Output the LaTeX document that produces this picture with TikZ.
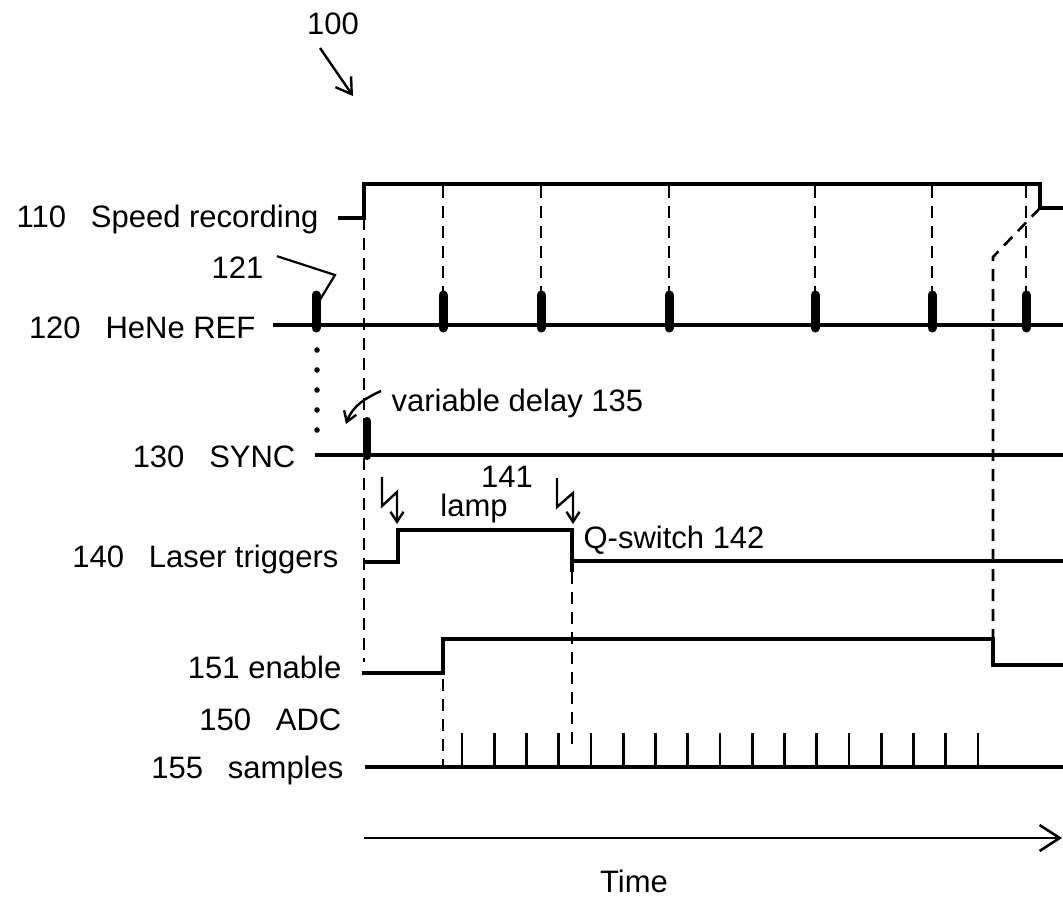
\documentclass[tikz,border=0pt]{standalone}
\usepackage{fontspec}
\setmainfont{Liberation Sans}
\usetikzlibrary{arrows.meta}
\tikzset{
  lbl/.style={font=\fontsize{31}{37}\selectfont,inner sep=0pt},
  guide/.style={line width=2.6pt,dash pattern=on 12pt off 8pt},
  pulse/.style={line width=9pt,line cap=round},
  bolt/.style={line width=2.4pt,-{Straight Barb[length=10pt,width=13pt]}}
}
\begin{document}
\begin{tikzpicture}[x=1pt,y=-1pt,line width=3.2pt,every node/.style={lbl}]
\useasboundingbox (0,0) rectangle (1063,903);

\node (100) [anchor=base] at (333,34) {100};
\draw [line width=2.4pt,-{Straight Barb[length=15pt,width=19pt]}] (320,48) -- (353,96);

\node (110) [anchor=base east] at (320,227) {110\hspace{0.8em}Speed recording};
\node (120) [anchor=base east] at (257,338) {120\hspace{0.8em}HeNe REF};
\node (121) [anchor=base east] at (265,278) {121};
\node (130) [anchor=base east] at (297,467) {130\hspace{0.8em}SYNC};
\node (135) [anchor=base west] at (390,411) {variable delay 135};
\node (140) [anchor=base east] at (340,567) {140\hspace{0.8em}Laser triggers};
\node (141) [anchor=base] at (507,487) {141};
\node (lamp) [anchor=base] at (474,516) {lamp};
\node (142) [anchor=base west] at (582,548) {Q-switch 142};
\node (151) [anchor=base east] at (343,678) {151 enable};
\node (150) [anchor=base east] at (343,730) {150\hspace{0.8em}ADC};
\node (155) [anchor=base east] at (345,778) {155\hspace{0.8em}samples};
\node (time) [anchor=base] at (634,892) {Time};

\draw (338,218) -- (364,218) -- (364,184) -- (1040,184) -- (1040,208) -- (1063,208);

\draw (273,325) -- (1063,325);
\foreach \x in {316,443,541,669,815,932,1026}
  \draw [pulse] (\x,295) -- (\x,328);
\draw [line width=2.2pt] (121.east) ++(12,-11) -- (335,275) -- (318,303);
\foreach \y in {350,370,...,430}
  \fill (317,\y) circle (2.8pt);

\draw (315,455) -- (1063,455);
\draw [pulse,line width=8pt] (367,421) -- (367,456);
\draw [line width=2.4pt,-{Straight Barb[length=10pt,width=13pt]}] (135.west) ++(-9,-12) .. controls (366,398) and (353,405) .. (346,424);

\draw (365,562) -- (398,562) -- (398,530) -- (572,530) -- (572,572);
\draw (572,561) -- (1063,561);
\draw [bolt] (382,477) -- (382,506) -- (397,492) -- (397,524);
\draw [bolt] (557,478) -- (557,507) -- (573,493) -- (573,524);

\draw (362,673) -- (443,673) -- (443,639) -- (993,639) -- (993,665) -- (1063,665);

\draw (365,767) -- (1063,767);
\foreach \i in {0,...,16}
  \draw [line width=2.8pt] ({462+32.25*\i},733) -- ++(0,34);

\draw [guide] (364,218) -- (364,662);
\foreach \x in {443,541,669,815,932,1026}
  \draw [guide] (\x,186) -- (\x,292);
\draw [guide] (1040,208) -- (993,257) -- (993,639);
\draw [guide] (443,639) -- (443,767);
\draw [guide] (572,572) -- (572,745);

\draw [line width=2.6pt,-{Straight Barb[length=20pt,width=26pt]}] (364,838) -- (1062,838);
\end{tikzpicture}
\end{document}
